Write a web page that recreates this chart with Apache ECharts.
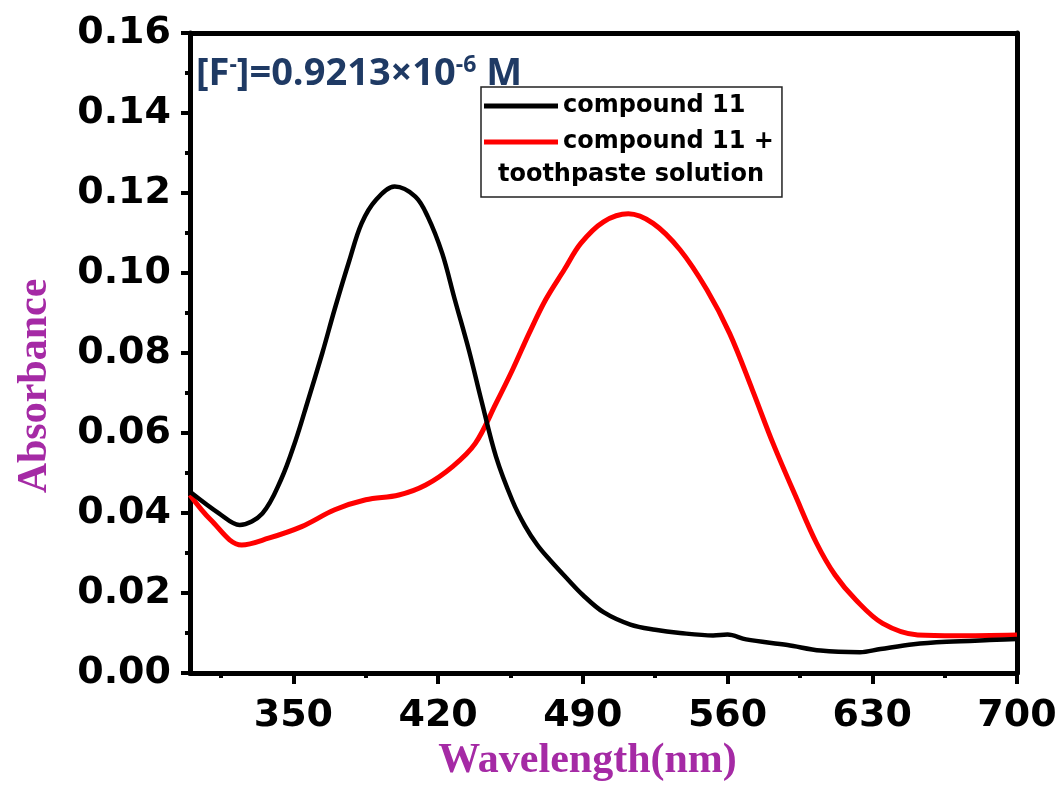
<!DOCTYPE html>
<html>
<head>
<meta charset="utf-8">
<script src="https://cdn.jsdelivr.net/npm/echarts@6/dist/echarts.min.js"></script>
<style>html,body{margin:0;padding:0;background:#fff;}#c{width:1061px;height:786px;}</style>
</head>
<body>
<div id="c"></div>
<script>
// ---- data ----
const seriesNames = ['compound 11', 'compound 11 +'];
const legendExtraLine = 'toothpaste solution';
const annotationParts = ['[F', '-', ']=0.9213×10', '-6', ' M'];
const xTitle = 'Wavelength(nm)';
const yTitle = 'Absorbance';
const xMajorTicks = [350, 420, 490, 560, 630, 700];
const xMinorTicks = [315, 385, 455, 525, 595, 665];

const blackWl = [300, 314, 324, 335, 344, 351, 357, 364, 370, 377, 383, 390, 399, 409, 415, 422, 428, 435, 441, 448, 456, 462, 468, 474, 482, 490, 500, 513, 525, 537, 553, 560, 569, 589, 605, 624, 634, 650, 666, 690, 700];
const blackAbs = [0.0453, 0.0399, 0.0370, 0.0399, 0.0483, 0.0580, 0.0680, 0.0800, 0.0910, 0.1030, 0.1124, 0.1183, 0.1216, 0.1191, 0.1141, 0.1049, 0.0935, 0.0805, 0.0680, 0.0541, 0.0430, 0.0368, 0.0320, 0.0283, 0.0238, 0.0195, 0.0152, 0.0121, 0.0108, 0.0100, 0.0094, 0.0096, 0.0084, 0.0070, 0.0056, 0.0052, 0.0060, 0.0072, 0.0078, 0.0083, 0.0085];

const redWl = [300, 310, 325, 338, 354, 370, 385, 401, 414, 427, 438, 448, 456, 464, 472, 481, 489, 500, 512, 524, 537, 550, 561, 572, 582, 593, 603, 612, 622, 635, 652, 671, 700];
const redAbs = [0.0445, 0.0383, 0.0320, 0.0337, 0.0366, 0.0408, 0.0433, 0.0445, 0.0470, 0.0516, 0.0574, 0.0674, 0.0758, 0.0849, 0.0933, 0.1008, 0.1074, 0.1128, 0.1148, 0.1124, 0.1058, 0.0958, 0.0849, 0.0708, 0.0574, 0.0441, 0.0325, 0.0245, 0.0183, 0.0124, 0.0095, 0.0093, 0.0095];

const pair = (xs, ys) => xs.map((x, i) => [x, ys[i]]);

const chart = echarts.init(document.getElementById('c'), null, {renderer: 'canvas'});
const tickFont = {fontFamily: 'DejaVu Sans', fontWeight: 'bold', fontSize: 38, color: '#000'};
const purple = '#a52aa5';

const option = {
  backgroundColor: '#fff',
  animation: false,
  grid: {left: 190, right: 44, top: 33, bottom: 113, containLabel: false, outerBoundsMode: 'none'},
  legend: {
    orient: 'vertical',
    left: 481, top: 87,
    itemWidth: 74, itemHeight: 5,
    itemGap: 6,
    icon: 'rect',
    padding: [4, 8, 40, 3],
    borderColor: '#222', borderWidth: 1.5,
    backgroundColor: '#fff',
    textStyle: {fontFamily: 'DejaVu Sans', fontWeight: 'bold', fontSize: 24, color: '#000', lineHeight: 30},
    data: seriesNames
  },
  xAxis: [
    {
      type: 'value', min: 300, max: 700, position: 'bottom',
      name: xTitle, nameLocation: 'middle', nameGap: 64,
      nameTextStyle: {fontFamily: 'Liberation Serif', fontWeight: 'bold', fontSize: 42, color: purple, padding: [0, 32, 0, 0]},
      axisLine: {show: true, onZero: false, lineStyle: {color: '#000', width: 5}},
      axisTick: {show: true, customValues: xMajorTicks, length: 11, lineStyle: {color: '#000', width: 4}},
      axisLabel: {show: true, customValues: xMajorTicks, margin: 24, ...tickFont},
      splitLine: {show: false}
    },
    {
      type: 'value', min: 300, max: 700, position: 'bottom',
      axisLine: {show: false},
      axisTick: {show: true, customValues: xMinorTicks, length: 5, lineStyle: {color: '#000', width: 4}},
      axisLabel: {show: false},
      splitLine: {show: false}
    },
    {
      type: 'value', min: 300, max: 700, position: 'top',
      axisLine: {show: true, onZero: false, lineStyle: {color: '#000', width: 5}},
      axisTick: {show: false}, axisLabel: {show: false}, splitLine: {show: false}
    }
  ],
  yAxis: [
    {
      type: 'value', min: 0, max: 0.16, interval: 0.02, position: 'left',
      name: yTitle, nameLocation: 'middle', nameGap: 134,
      nameTextStyle: {fontFamily: 'Liberation Serif', fontWeight: 'bold', fontSize: 42, color: purple, padding: [0, 66, 0, 0]},
      axisLine: {show: true, onZero: false, lineStyle: {color: '#000', width: 5}},
      axisTick: {show: true, length: 9, lineStyle: {color: '#000', width: 4}},
      minorTick: {show: true, splitNumber: 2, length: 5, lineStyle: {color: '#000', width: 4}},
      axisLabel: {margin: 19, formatter: v => v.toFixed(2), ...tickFont},
      splitLine: {show: false}
    },
    {
      type: 'value', min: 0, max: 0.16, position: 'right',
      axisLine: {show: true, onZero: false, lineStyle: {color: '#000', width: 5}},
      axisTick: {show: false}, axisLabel: {show: false}, splitLine: {show: false}
    }
  ],
  series: [
    {
      name: seriesNames[0], type: 'line', xAxisIndex: 0, yAxisIndex: 0,
      data: pair(blackWl, blackAbs), smooth: 0.35, showSymbol: false,
      lineStyle: {color: '#000', width: 4.5}, itemStyle: {color: '#000'}, z: 3
    },
    {
      name: seriesNames[1], type: 'line', xAxisIndex: 0, yAxisIndex: 0,
      data: pair(redWl, redAbs), smooth: 0.35, showSymbol: false,
      lineStyle: {color: '#f00', width: 5}, itemStyle: {color: '#f00'}, z: 2
    }
  ],
  graphic: [
    {
      type: 'text', x: 196, y: 54, z: 10,
      style: {
        text: '{a|' + annotationParts[0] + '}{s|' + annotationParts[1] + '}{a|' + annotationParts[2] + '}{s|' + annotationParts[3] + '}{a|' + annotationParts[4] + '}',
        rich: {
          a: {fontFamily: 'Open Sans', fontWeight: 'bold', fontSize: 38, fill: '#1f3a64', lineHeight: 40},
          s: {fontFamily: 'Open Sans', fontWeight: 'bold', fontSize: 23, fill: '#1f3a64', lineHeight: 40, verticalAlign: 'top', padding: [0, 0, 12, 0]}
        }
      }
    },
    {
      type: 'text', x: 631, y: 163, z: 100,
      style: {text: legendExtraLine, align: 'center', fontFamily: 'DejaVu Sans', fontWeight: 'bold', fontSize: 24, fill: '#000'}
    }
  ]
};
chart.setOption(option);
</script>
</body>
</html>
